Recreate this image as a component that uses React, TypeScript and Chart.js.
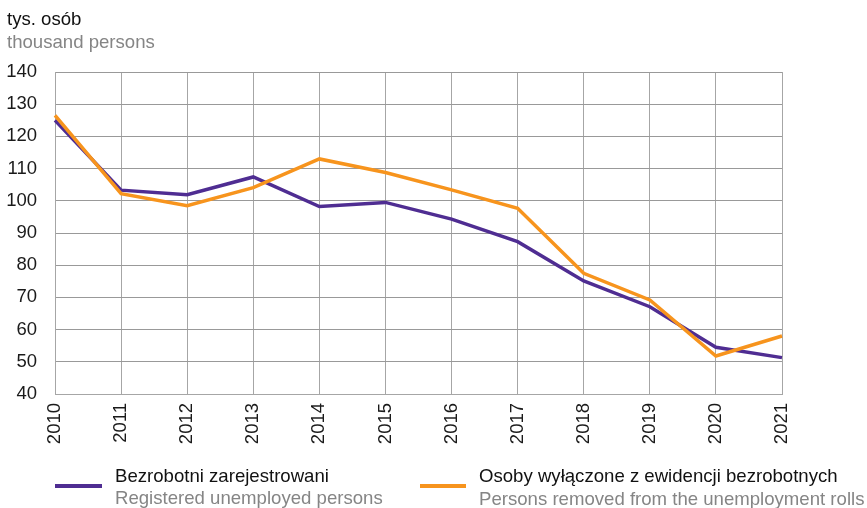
import React, { useEffect, useRef } from "react";
import { Chart, registerables } from "chart.js";

Chart.register(...registerables);

const years = ["2010", "2011", "2012", "2013", "2014", "2015", "2016", "2017", "2018", "2019", "2020", "2021"];
const registered = [125, 103.3, 101.9, 107.4, 98.2, 99.5, 94.3, 87.3, 75.1, 67.1, 54.5, 51.3];
const removed = [126.5, 102.2, 98.5, 104.1, 113, 108.8, 103.4, 97.7, 77.5, 69.2, 51.8, 58];

const PURPLE = "#4f2d92";
const ORANGE = "#f7941d";
const FONT = "'Liberation Sans', Arial, sans-serif";

export default function App() {
  const ref = useRef<HTMLCanvasElement | null>(null);

  useEffect(() => {
    if (!ref.current) return;
    const chart = new Chart(ref.current, {
      type: "line",
      data: {
        labels: years,
        datasets: [
          {
            label: "Bezrobotni zarejestrowani",
            data: registered,
            borderColor: PURPLE,
            backgroundColor: PURPLE,
            borderWidth: 3.5,
            pointRadius: 0,
            tension: 0,
            order: 1,
          },
          {
            label: "Osoby wyłączone z ewidencji bezrobotnych",
            data: removed,
            borderColor: ORANGE,
            backgroundColor: ORANGE,
            borderWidth: 3.5,
            pointRadius: 0,
            tension: 0,
            order: 0,
          },
        ],
      },
      options: {
        responsive: false,
        animation: false,
        layout: { padding: { left: 0, right: 85, top: 72, bottom: 64 } },
        plugins: { legend: { display: false }, tooltip: { enabled: false } },
        scales: {
          x: {
            offset: false,
            grid: { color: "#a6a6a6", lineWidth: 1, drawTicks: false },
            border: { color: "#a6a6a6" },
            ticks: {
              minRotation: 90,
              maxRotation: 90,
              padding: 9,
              color: "#1a1a1a",
              font: { family: FONT, size: 18.5 },
            },
            afterFit: (s: any) => {
              s.height = 50;
            },
          },
          y: {
            min: 40,
            max: 140,
            grid: { color: "#999999", lineWidth: 1, drawTicks: false },
            border: { color: "#a6a6a6" },
            ticks: {
              stepSize: 10,
              padding: 18,
              color: "#1a1a1a",
              font: { family: FONT, size: 18.5 },
            },
            afterFit: (s: any) => {
              s.width = 55;
            },
          },
        },
      },
    });
    return () => chart.destroy();
  }, []);

  const txt = (top: number, left: number, color: string, s: string) => (
    <div
      style={{
        position: "absolute",
        top,
        left,
        fontFamily: FONT,
        fontSize: 18.6,
        lineHeight: "18px",
        color,
        whiteSpace: "nowrap",
      }}
    >
      {s}
    </div>
  );

  return (
    <div style={{ position: "fixed", left: 0, top: 0, width: 867, height: 508, background: "#fff" }}>
      <canvas ref={ref} width={867} height={508} style={{ position: "absolute", left: 0, top: 0 }} />
      {txt(10, 7, "#111111", "tys. osób")}
      {txt(33, 7, "#858585", "thousand persons")}
      <div style={{ position: "absolute", left: 55, top: 484, width: 47, height: 4, background: PURPLE }} />
      {txt(467, 115, "#111111", "Bezrobotni zarejestrowani")}
      {txt(489, 115, "#858585", "Registered unemployed persons")}
      <div style={{ position: "absolute", left: 420, top: 484, width: 46, height: 4, background: ORANGE }} />
      {txt(467, 479, "#111111", "Osoby wyłączone z ewidencji bezrobotnych")}
      {txt(490, 479, "#858585", "Persons removed from the unemployment rolls")}
    </div>
  );
}
